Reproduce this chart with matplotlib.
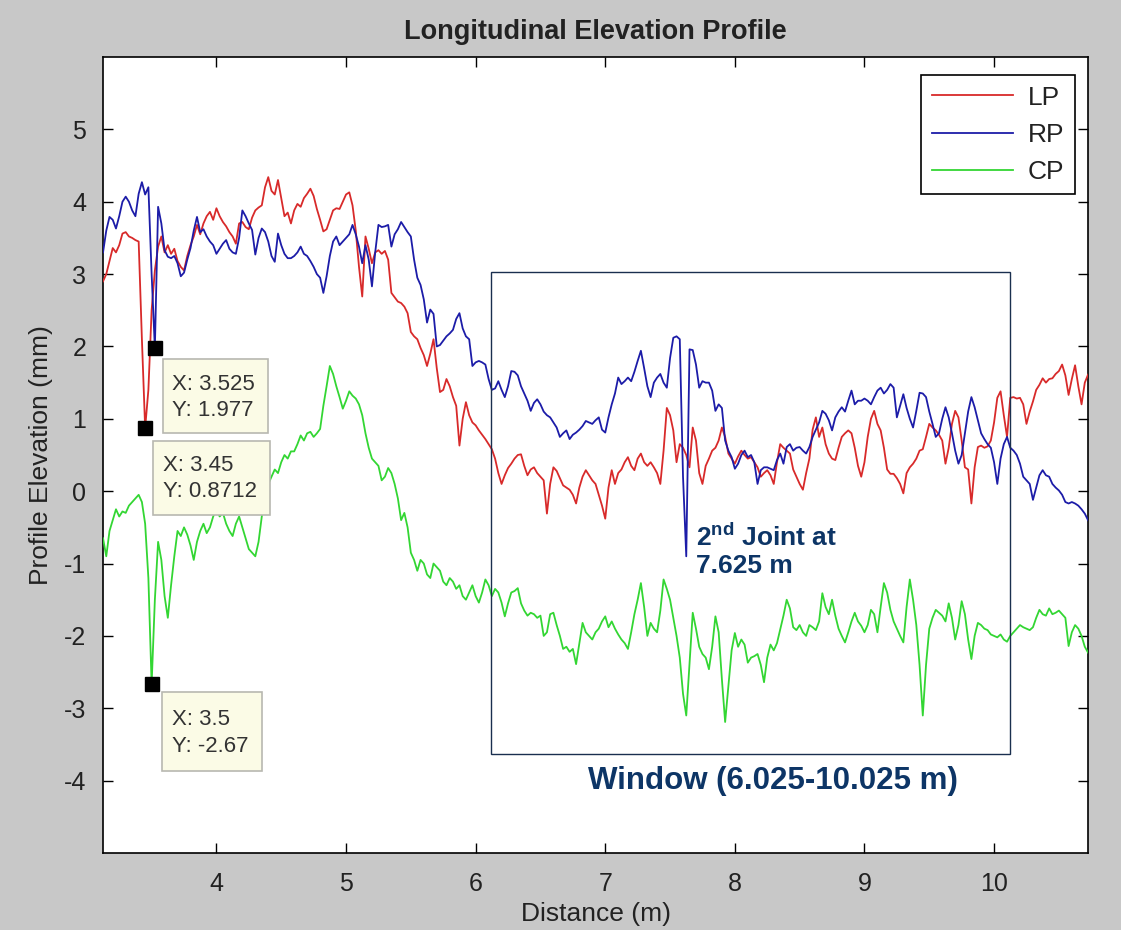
import matplotlib
matplotlib.use("Agg")
import matplotlib.pyplot as plt
import numpy as np
from matplotlib.patches import Rectangle

plt.rcParams['font.family'] = ['Liberation Sans', 'DejaVu Sans']
plt.rcParams['mathtext.fontset'] = 'custom'
plt.rcParams['mathtext.rm'] = 'Liberation Sans'
plt.rcParams['mathtext.bf'] = 'Liberation Sans:bold'
plt.rcParams['axes.unicode_minus'] = False

# ---------------- data ----------------
x_start = 3.125
x_step = 0.025

lp = [2.90, 3.00, 3.18, 3.36, 3.30, 3.40, 3.56, 3.58, 3.52, 3.50,
      3.47, 3.45, 2.10, 0.8712, 1.40, 2.50, 3.05, 3.38, 3.52, 3.30,
      3.40, 3.28, 3.35, 3.18, 3.10, 3.05, 3.25, 3.40, 3.52, 3.68,
      3.55, 3.70, 3.80, 3.86, 3.75, 3.91, 3.80, 3.72, 3.66, 3.58,
      3.52, 3.42, 3.70, 3.72, 3.65, 3.62, 3.78, 3.88, 3.92, 3.95,
      4.20, 4.34, 4.15, 4.10, 4.30, 4.05, 3.80, 3.85, 3.70, 3.88,
      3.97, 3.93, 4.05, 4.11, 4.18, 4.08, 3.90, 3.75, 3.59, 3.62,
      3.75, 3.88, 3.91, 3.90, 4.00, 4.10, 4.13, 3.95, 3.60, 3.10,
      2.69, 3.52, 3.35, 3.15, 3.30, 3.33, 3.28, 3.32, 3.20, 2.74,
      2.68, 2.62, 2.60, 2.55, 2.46, 2.20, 2.14, 2.10, 1.98, 1.88,
      1.73, 1.90, 2.10, 1.70, 1.37, 1.40, 1.55, 1.45, 1.30, 1.18,
      0.63, 1.00, 1.23, 1.05, 0.95, 0.91, 0.84, 0.78, 0.72, 0.65,
      0.58, 0.45, 0.25, 0.10, 0.22, 0.32, 0.38, 0.45, 0.50, 0.51,
      0.35, 0.22, 0.30, 0.33, 0.25, 0.20, 0.15, -0.31, 0.10, 0.33,
      0.28, 0.18, 0.08, 0.05, 0.02, -0.05, -0.17, 0.05, 0.20, 0.29,
      0.22, 0.15, 0.10, -0.05, -0.20, -0.38, 0.05, 0.29, 0.10, 0.25,
      0.30, 0.40, 0.47, 0.35, 0.29, 0.45, 0.52, 0.40, 0.35, 0.40,
      0.33, 0.25, 0.10, 0.56, 1.15, 1.05, 0.84, 0.40, 0.65, 0.60,
      0.50, 0.33, 0.88, 0.70, 0.25, 0.10, 0.35, 0.45, 0.56, 0.60,
      0.70, 0.88, 0.75, 0.52, 0.45, 0.38, 0.48, 0.56, 0.50, 0.45,
      0.47, 0.40, 0.33, 0.20, 0.25, 0.29, 0.22, 0.10, 0.40, 0.65,
      0.60, 0.56, 0.52, 0.30, 0.20, 0.10, 0.02, 0.25, 0.45, 0.85,
      1.02, 0.75, 0.88, 0.65, 0.52, 0.45, 0.43, 0.60, 0.75, 0.80,
      0.84, 0.80, 0.60, 0.35, 0.20, 0.40, 0.75, 1.00, 1.11, 0.93,
      0.84, 0.60, 0.30, 0.24, 0.24, 0.18, 0.10, -0.03, 0.25, 0.33,
      0.38, 0.45, 0.56, 0.58, 0.75, 0.93, 0.88, 0.84, 0.78, 0.70,
      0.38, 0.60, 0.93, 1.11, 1.02, 0.70, 0.33, 0.30, -0.17, 0.33,
      0.61, 0.63, 0.60, 0.62, 0.70, 0.95, 1.29, 1.38, 1.05, 0.75,
      1.29, 1.30, 1.28, 1.29, 1.20, 0.93, 1.10, 1.24, 1.40, 1.47,
      1.56, 1.50, 1.55, 1.56, 1.62, 1.66, 1.75, 1.60, 1.33, 1.55,
      1.74, 1.45, 1.20, 1.50, 1.61]

rp = [3.30, 3.60, 3.79, 3.75, 3.63, 3.80, 4.00, 4.07, 4.00, 3.88,
      3.80, 4.11, 4.27, 4.10, 4.20, 3.00, 1.977, 3.93, 3.70, 3.33,
      3.24, 3.22, 3.25, 3.15, 2.97, 3.02, 3.20, 3.36, 3.60, 3.79,
      3.58, 3.62, 3.52, 3.45, 3.40, 3.28, 3.35, 3.42, 3.47, 3.35,
      3.30, 3.28, 3.50, 3.88, 3.80, 3.70, 3.61, 3.27, 3.50, 3.63,
      3.58, 3.45, 3.25, 3.17, 3.56, 3.40, 3.28, 3.22, 3.22, 3.25,
      3.30, 3.38, 3.28, 3.25, 3.18, 3.10, 3.00, 2.95, 2.74, 2.97,
      3.25, 3.45, 3.52, 3.40, 3.45, 3.50, 3.55, 3.68, 3.55, 3.38,
      3.15, 3.40, 3.20, 2.83, 3.30, 3.68, 3.65, 3.66, 3.68, 3.38,
      3.55, 3.62, 3.72, 3.65, 3.58, 3.52, 3.20, 2.95, 2.85, 2.65,
      2.33, 2.51, 2.45, 2.00, 2.02, 2.08, 2.14, 2.18, 2.23, 2.38,
      2.46, 2.25, 2.14, 2.10, 1.73, 1.78, 1.80, 1.78, 1.75, 1.55,
      1.40, 1.42, 1.52, 1.40, 1.30, 1.45, 1.66, 1.65, 1.60, 1.45,
      1.35, 1.25, 1.11, 1.22, 1.27, 1.20, 1.10, 1.05, 1.02, 0.95,
      0.88, 0.75, 0.80, 0.84, 0.72, 0.78, 0.81, 0.85, 0.90, 0.97,
      0.95, 0.93, 0.98, 1.02, 0.85, 0.81, 1.02, 1.20, 1.35, 1.57,
      1.48, 1.52, 1.57, 1.52, 1.65, 1.80, 1.94, 1.70, 1.45, 1.30,
      1.50, 1.57, 1.62, 1.50, 1.43, 1.84, 2.12, 2.14, 2.10, 0.20,
      -0.90, 1.96, 1.95, 1.75, 1.43, 1.52, 1.50, 1.50, 1.39, 1.11,
      1.20, 1.15, 0.70, 0.56, 0.47, 0.31, 0.38, 0.50, 0.56, 0.47,
      0.50, 0.40, 0.10, 0.29, 0.33, 0.33, 0.31, 0.29, 0.43, 0.52,
      0.38, 0.61, 0.65, 0.56, 0.60, 0.61, 0.56, 0.52, 0.61, 0.75,
      0.85, 0.95, 1.11, 1.07, 0.98, 0.84, 1.02, 1.10, 1.16, 1.10,
      1.25, 1.39, 1.20, 1.25, 1.25, 1.28, 1.25, 1.20, 1.30, 1.39,
      1.43, 1.35, 1.40, 1.48, 1.43, 1.02, 1.18, 1.34, 1.15, 1.00,
      0.88, 1.11, 1.36, 1.35, 1.30, 1.10, 0.93, 0.75, 0.80, 1.00,
      1.16, 1.02, 0.80, 0.56, 0.38, 0.50, 0.80, 1.10, 1.30, 1.16,
      0.98, 0.80, 0.72, 0.65, 0.60, 0.40, 0.10, 0.45, 0.65, 0.75,
      0.60, 0.56, 0.50, 0.38, 0.20, 0.15, 0.10, -0.12, 0.05, 0.22,
      0.29, 0.22, 0.20, 0.10, 0.05, 0.01, -0.05, -0.15, -0.17, -0.15,
      -0.17, -0.20, -0.25, -0.31, -0.40]

cp = [-0.65, -0.90, -0.55, -0.40, -0.25, -0.35, -0.28, -0.30, -0.20, -0.15,
      -0.10, -0.05, -0.15, -0.45, -1.20, -2.67, -1.50, -0.70, -0.95, -1.45,
      -1.75, -1.30, -0.90, -0.55, -0.62, -0.50, -0.60, -0.75, -0.95, -0.70,
      -0.55, -0.45, -0.58, -0.50, -0.35, -0.25, -0.35, -0.30, -0.45, -0.55,
      -0.62, -0.45, -0.35, -0.50, -0.65, -0.80, -0.85, -0.90, -0.70, -0.35,
      -0.10, 0.10, 0.20, 0.30, 0.25, 0.40, 0.50, 0.45, 0.55, 0.55,
      0.65, 0.77, 0.70, 0.80, 0.82, 0.75, 0.80, 0.86, 1.18, 1.45,
      1.73, 1.62, 1.45, 1.30, 1.14, 1.25, 1.38, 1.32, 1.28, 1.20,
      1.05, 0.80, 0.60, 0.45, 0.40, 0.35, 0.15, 0.20, 0.32, 0.25,
      0.10, -0.10, -0.40, -0.30, -0.50, -0.85, -0.95, -1.10, -0.95, -1.00,
      -1.15, -1.20, -1.00, -1.05, -1.10, -1.25, -1.30, -1.20, -1.25, -1.35,
      -1.30, -1.45, -1.50, -1.40, -1.30, -1.45, -1.54, -1.40, -1.22, -1.30,
      -1.45, -1.35, -1.40, -1.54, -1.73, -1.55, -1.40, -1.38, -1.34, -1.55,
      -1.65, -1.72, -1.68, -1.70, -1.75, -1.72, -2.00, -1.95, -1.70, -1.68,
      -1.85, -2.00, -2.18, -2.15, -2.22, -2.18, -2.39, -2.10, -1.82, -1.95,
      -2.00, -2.05, -1.95, -1.90, -1.80, -1.73, -1.88, -1.80, -1.90, -1.98,
      -2.05, -2.10, -2.18, -1.95, -1.70, -1.50, -1.27, -1.60, -2.00, -1.82,
      -1.90, -1.95, -1.65, -1.22, -1.35, -1.50, -1.75, -2.00, -2.30, -2.80,
      -3.10, -2.40, -1.68, -1.90, -2.15, -2.25, -2.30, -2.46, -2.15, -1.73,
      -1.95, -2.60, -3.19, -2.70, -2.20, -1.96, -2.15, -2.05, -2.12, -2.37,
      -2.30, -2.28, -2.25, -2.40, -2.64, -2.30, -2.12, -2.20, -2.10, -1.91,
      -1.72, -1.50, -1.62, -1.88, -1.92, -1.85, -1.95, -2.00, -1.85, -1.88,
      -1.92, -1.80, -1.41, -1.60, -1.70, -1.50, -1.72, -1.90, -2.00, -2.09,
      -1.95, -1.80, -1.68, -1.80, -1.86, -1.95, -1.85, -1.64, -1.70, -1.95,
      -1.60, -1.27, -1.40, -1.64, -1.80, -1.90, -2.00, -2.09, -1.60, -1.22,
      -1.50, -1.85, -2.40, -3.10, -2.40, -1.90, -1.75, -1.64, -1.68, -1.72,
      -1.80, -1.55, -1.75, -2.05, -1.85, -1.52, -1.70, -2.05, -2.32, -2.00,
      -1.82, -1.85, -1.90, -1.92, -1.98, -2.00, -2.02, -1.98, -2.05, -2.08,
      -2.00, -1.95, -1.90, -1.85, -1.88, -1.90, -1.92, -1.88, -1.75, -1.64,
      -1.70, -1.72, -1.62, -1.70, -1.68, -1.65, -1.70, -1.75, -2.14, -1.95,
      -1.85, -1.90, -2.00, -2.15, -2.23]

series_names = ["LP", "RP", "CP"]
x_ticks = [4, 5, 6, 7, 8, 9, 10]
y_ticks = [-4, -3, -2, -1, 0, 1, 2, 3, 4, 5]

tip_x = [3.525, 3.45, 3.5]
tip_y = [1.977, 0.8712, -2.67]

distance = np.round(x_start + x_step * np.arange(len(lp)), 3)

# ---------------- figure ----------------
fig = plt.figure(figsize=(11.21, 9.30), dpi=100, facecolor='#c8c8c8')
ax = fig.add_axes([0.0919, 0.0828, 0.8787, 0.8559])
ax.set_facecolor('white')

colors = ['#d82a2a', '#1c1ca8', '#33d633']
for vals, name, c in zip([lp, rp, cp], series_names, colors):
    ax.plot(distance, vals, color=c, lw=1.3, label=name, zorder=3)

ax.set_xlim(3.125, 10.725)
ax.set_ylim(-5, 6)
ax.set_xticks(x_ticks)
ax.set_yticks(y_ticks)
ax.tick_params(direction='in', length=7, width=1, top=True, right=True,
               labelsize=18, colors='black')
ax.tick_params(axis='x', pad=14)
ax.tick_params(axis='y', pad=12)
for lab in ax.get_xticklabels() + ax.get_yticklabels():
    lab.set_color('#222222')
for s in ax.spines.values():
    s.set_linewidth(1.2)
    s.set_color('black')

ax.set_title("Longitudinal Elevation Profile", fontsize=19.5, fontweight='bold',
             pad=13, color='#222222')
ax.set_xlabel("Distance (m)", fontsize=19, labelpad=4, color='#222222')
ax.set_ylabel("Profile Elevation (mm)", fontsize=19, labelpad=8, color='#222222')

leg = ax.legend(loc='upper right', bbox_to_anchor=(0.9868, 0.9774),
                borderaxespad=0, fancybox=False, framealpha=1,
                edgecolor='black', fontsize=19, handlelength=3.1,
                handletextpad=0.55, labelspacing=0.5, borderpad=0.4)
leg.get_frame().set_linewidth(1.2)
for t in leg.get_texts():
    t.set_color('#222222')

# data tips
ax.plot(tip_x, tip_y, 's', color='black', ms=10, zorder=6, linestyle='none')

tip_boxes = [(3.591, 0.81, 0.81, 1.017), (3.514, -0.33, 0.902, 1.03),
             (3.583, -3.87, 0.772, 1.10)]
tip_text_pos = [(3.655, 1.47, 1.11), (3.585, 0.357, 0.0), (3.655, -3.15, -3.53)]
for (bx, by, bw, bh), (tx, ty1, ty2), xv, yv in zip(tip_boxes, tip_text_pos,
                                                      tip_x, tip_y):
    ax.add_patch(Rectangle((bx, by), bw, bh, facecolor='#fbfbe6',
                           edgecolor='#b8b8b0', lw=1.2, zorder=7))
    ax.text(tx, ty1, f"X: {xv:g}", fontsize=16, color='#333333',
            va='center', ha='left', zorder=8)
    ax.text(tx, ty2, f"Y: {yv:g}", fontsize=16, color='#333333',
            va='center', ha='left', zorder=8)

# analysis window
navy = '#0d3566'
ax.add_patch(Rectangle((6.12, -3.63), 4.0, 6.66, fill=False,
                       edgecolor='#1a2f4f', lw=1.0, zorder=5))
ax.text(8.29, -4.0, "Window (6.025-10.025 m)", fontsize=22.5,
        fontweight='bold', color=navy, ha='center', va='center', zorder=8)
ax.text(7.70, -0.64, r"$\mathbf{2^{nd}}$ Joint at", fontsize=19,
        fontweight='bold', color=navy, ha='left', va='center', zorder=8)
ax.text(7.70, -1.04, "7.625 m", fontsize=19, fontweight='bold', color=navy,
        ha='left', va='center', zorder=8)

fig.savefig("out.png", dpi=100, facecolor=fig.get_facecolor())
